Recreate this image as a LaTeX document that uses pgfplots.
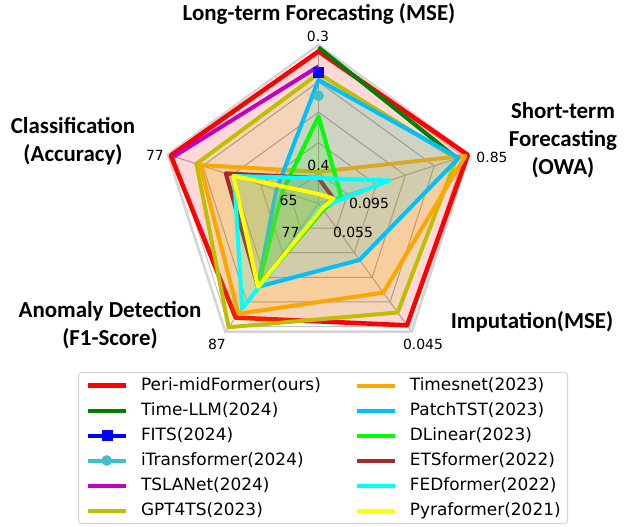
\documentclass[border=0pt]{standalone}
\usepackage{pgfplots}
\pgfplotsset{compat=1.18}
\usepackage{fontspec}
\setmainfont{DejaVu Sans}
\newfontfamily\carlito{Carlito}
\definecolor{cRed}{HTML}{FF0000}
\definecolor{cGreen}{HTML}{008000}
\definecolor{cBlue}{HTML}{0000FF}
\definecolor{cTeal}{HTML}{40BFC8}
\definecolor{cMag}{HTML}{BF00BF}
\definecolor{cOlive}{HTML}{BFBF00}
\definecolor{cOrange}{HTML}{FFA500}
\definecolor{cSky}{HTML}{00BFFF}
\definecolor{cLime}{HTML}{00FF00}
\definecolor{cBrown}{HTML}{A52A2A}
\definecolor{cCyan}{HTML}{00FFFF}
\definecolor{cYellow}{HTML}{FFFF00}
\definecolor{gridc}{HTML}{ABABAB}
\definecolor{framec}{HTML}{D4D4D4}
\pgfplotsset{
  ser/.style={line width=4bp, line join=round, fill opacity=0.15},
}
\begin{document}
\begin{tikzpicture}
\clip (0,0) rectangle (626bp,527bp);
\begin{axis}[
  at={(0,0)}, anchor=south west,
  x=158.5bp, y=158.5bp,
  xmin=-2.0095, xmax=1.9401, ymin=-2.0410, ymax=1.2839,
  hide axis, clip=false,
  data cs=polar,
  legend columns=6, transpose legend,
  legend cell align=left,
  legend image code/.code={\draw[mark repeat=2,mark phase=2,#1,fill=none] plot coordinates {(0bp,0bp) (19bp,0bp) (38bp,0bp)};},
  legend style={at={(rel axis cs:0.1246,0.2941)}, anchor=north west,
    draw=framec, line width=1bp, rounded corners=3bp, fill=white,
    font=\fontsize{17}{20}\selectfont,
    inner xsep=7bp, inner ysep=5bp,
    row sep=9bp, column sep=13bp,
    nodes={inner xsep=0bp, inner ysep=0bp, text height=12.5bp, text depth=3.5bp},
    /tikz/every even column/.append style={column sep=34bp},
  },
]
% grid rings
\addplot[gridc, line width=1bp, forget plot] coordinates {(90,0.192) (18,0.192) (-54,0.192) (-126,0.192) (162,0.192) (90,0.192) (18,0.192)};
\addplot[gridc, line width=1bp, forget plot] coordinates {(90,0.384) (18,0.384) (-54,0.384) (-126,0.384) (162,0.384) (90,0.384) (18,0.384)};
\addplot[gridc, line width=1bp, forget plot] coordinates {(90,0.576) (18,0.576) (-54,0.576) (-126,0.576) (162,0.576) (90,0.576) (18,0.576)};
\addplot[gridc, line width=1bp, forget plot] coordinates {(90,0.768) (18,0.768) (-54,0.768) (-126,0.768) (162,0.768) (90,0.768) (18,0.768)};
\addplot[gridc!70, line width=1bp, forget plot] coordinates {(90,0.96) (18,0.96) (-54,0.96) (-126,0.96) (162,0.96) (90,0.96) (18,0.96)};
% spokes
\addplot[gridc, line width=1bp, forget plot] coordinates {(90,0) (90,1)};
\addplot[gridc, line width=1bp, forget plot] coordinates {(18,0) (18,1)};
\addplot[gridc, line width=1bp, forget plot] coordinates {(-54,0) (-54,1)};
\addplot[gridc, line width=1bp, forget plot] coordinates {(-126,0) (-126,1)};
\addplot[gridc, line width=1bp, forget plot] coordinates {(162,0) (162,1)};
% frame
\addplot[framec, line width=2.5bp, line join=miter, forget plot] coordinates {(90,1) (18,1) (-54,1) (-126,1) (162,1) (90,1) (18,1)};

% series
\addplot[ser, draw=cRed, fill=cRed, line width=4.5bp] coordinates {(90,0.96) (18,0.99) (-54,0.95) (-126,0.89) (162,0.98) (90,0.96) (18,0.99)};
\addlegendentry{Peri-midFormer(ours)}
\addplot[ser, draw=cGreen] coordinates {(90,0.985) (18,0.92)};
\addlegendentry{Time-LLM(2024)}
\addplot[line width=4bp, draw=cBlue, mark=square*, mark size=5bp, mark options={fill=cBlue, draw=cBlue, line width=0.5bp, fill opacity=1}] coordinates {(90,0.83)};
\addlegendentry{FITS(2024)}
\addplot[line width=4bp, draw=cTeal, mark=*, mark size=5bp, mark options={fill=cTeal, draw=cTeal, line width=0.5bp, fill opacity=1}] coordinates {(90,0.68)};
\addlegendentry{iTransformer(2024)}
\addplot[ser, draw=cMag] coordinates {(162,0.96) (90,0.865)};
\addlegendentry{TSLANet(2024)}
\addplot[ser, draw=cOlive, fill=cOlive] coordinates {(90,0.82) (18,0.915) (-54,0.85) (-126,0.965) (162,0.81) (90,0.82) (18,0.915)};
\addlegendentry{GPT4TS(2023)}
\addplot[ser, draw=cOrange, fill=cOrange] coordinates {(90,0.2) (18,0.975) (-54,0.695) (-126,0.86) (162,0.785) (90,0.2) (18,0.975)};
\addlegendentry{Timesnet(2023)}
\addplot[ser, draw=cSky, fill=cSky] coordinates {(90,0.78) (18,0.93) (-54,0.44) (-126,0.65) (162,0.28) (90,0.78) (18,0.93)};
\addlegendentry{PatchTST(2023)}
\addplot[ser, draw=cLime, fill=cLime] coordinates {(90,0.55) (18,0.15) (-54,0.05) (-126,0.65) (162,0.24) (90,0.55) (18,0.15)};
\addlegendentry{DLinear(2023)}
\addplot[ser, draw=cBrown, fill=cBrown] coordinates {(90,0.16) (18,0.1) (-54,0.04) (-126,0.65) (162,0.615) (90,0.16) (18,0.1)};
\addlegendentry{ETSformer(2022)}
\addplot[ser, draw=cCyan, fill=cCyan] coordinates {(90,0.16) (18,0.47) (-54,0.03) (-126,0.82) (162,0.56) (90,0.16) (18,0.47)};
\addlegendentry{FEDformer(2022)}
\addplot[ser, draw=cYellow, fill=cYellow] coordinates {(90,0.06) (18,0.1) (-54,0.04) (-126,0.65) (162,0.565) (90,0.06) (18,0.1)};
\addlegendentry{Pyraformer(2021)}
\end{axis}

% titles
\begin{scope}[every node/.style={font=\carlito\bfseries\fontsize{23}{28}\selectfont, align=center, inner sep=0pt}]
\node at (319bp,513bp) {Long-term Forecasting (MSE)};
\node at (563bp,387bp) {Short-term\\Forecasting\\(OWA)};
\node at (73bp,386bp) {Classification\\(Accuracy)};
\node at (110bp,202bp) {Anomaly Detection\\(F1-Score)};
\node at (532bp,205bp) {Imputation(MSE)};
\end{scope}
% tick labels
\begin{scope}[every node/.style={font=\fontsize{14}{16}\selectfont, inner sep=0pt}]
\node at (318bp,491bp) {0.3};
\node at (492bp,370bp) {0.85};
\node at (155bp,372bp) {77};
\node at (217bp,183bp) {87};
\node at (423bp,183bp) {0.045};
\node at (318.5bp,362bp) {0.4};
\node at (369bp,324bp) {0.095};
\node at (353bp,295bp) {0.055};
\node at (288.5bp,327bp) {65};
\node at (290.5bp,295bp) {77};
\end{scope}
\end{tikzpicture}
\end{document}
